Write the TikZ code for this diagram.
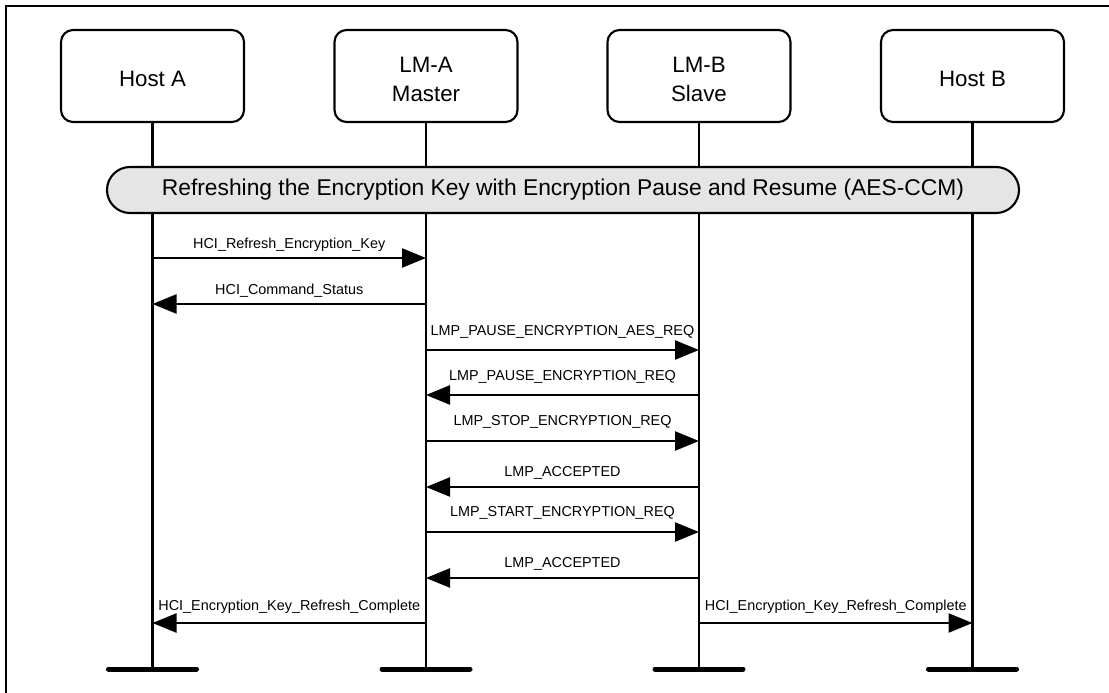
\documentclass[tikz,border=0pt]{standalone}
\usepackage{fontspec}
\setmainfont{Liberation Sans}
\usetikzlibrary{arrows.meta}
\definecolor{phasegray}{RGB}{229,229,229}
\newcommand\boxline[1]{\raisebox{-3pt}[\height][\depth]{#1}}
\tikzset{
  entity/.style={draw, line width=2.1pt, rounded corners=12pt, minimum width=183pt,
    minimum height=92pt, align=center, font=\fontsize{22.3}{29}\selectfont},
  phase/.style={draw, line width=2.1pt, fill=phasegray, rounded corners=23pt,
    minimum width=912pt, minimum height=46pt, font=\fontsize{22.8}{26}\selectfont},
  msg/.style={line width=2.4pt, -{Triangle[length=24pt,width=19pt]}},
  lbl/.style={font=\fontsize{14.4}{17}\selectfont, inner sep=0pt},
}
\begin{document}
\begin{tikzpicture}[x=1pt,y=-1pt]
\useasboundingbox (0,0) rectangle (1109,693);
\draw[line width=2.5pt] (6,693) -- (6,6) -- (1109,6);
\node[entity] (hostA) at (152.5,76) {\boxline{Host A}};
\node[entity] (lmA) at (426,76) {\boxline{LM-A}\\\boxline{Master}};
\node[entity] (lmB) at (699,76) {\boxline{LM-B}\\\boxline{Slave}};
\node[entity] (hostB) at (972.5,76) {\boxline{Host B}};
\foreach \n in {hostA,lmA,lmB,hostB}{
\coordinate (\n-end) at (\n.south |- 0,669);
\draw[line width=2.1pt] (\n.south) -- (\n-end);
\draw[line width=5pt, line cap=round] ([xshift=-44pt]\n-end) -- ([xshift=44pt]\n-end);
}
\node[phase] (refresh) at (563,190) {Refreshing the Encryption Key with Encryption Pause and Resume (AES-CCM)};
\foreach \a/\b/\y/\d/\t in {
hostA/lmA/258/13/HCI\_Refresh\_Encryption\_Key,
lmA/hostA/304/13/HCI\_Command\_Status,
lmA/lmB/350/18/LMP\_PAUSE\_ENCRYPTION\_AES\_REQ,
lmB/lmA/395/18/LMP\_PAUSE\_ENCRYPTION\_REQ,
lmA/lmB/441/19/LMP\_STOP\_ENCRYPTION\_REQ,
lmB/lmA/487/14/LMP\_ACCEPTED,
lmA/lmB/532/19/LMP\_START\_ENCRYPTION\_REQ,
lmB/lmA/578/14/LMP\_ACCEPTED,
lmA/hostA/623/16/HCI\_Encryption\_Key\_Refresh\_Complete,
lmB/hostB/623/16/HCI\_Encryption\_Key\_Refresh\_Complete}{
\coordinate (from) at (\a.south |- 0,\y);
\coordinate (to) at (\b.south |- 0,\y);
\draw[msg] (from) -- node[lbl, yshift=\d pt] {\t} (to);
}
\end{tikzpicture}
\end{document}
